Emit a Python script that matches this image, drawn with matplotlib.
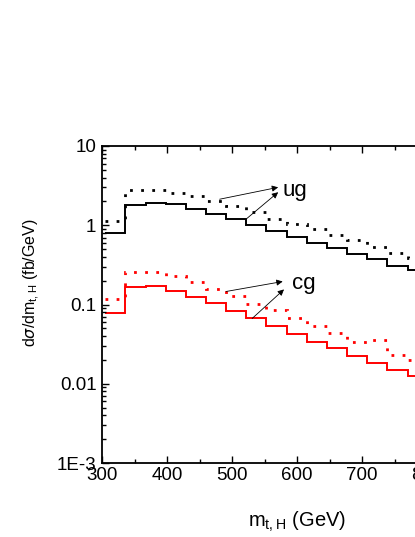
import matplotlib.pyplot as plt
from matplotlib.ticker import FixedLocator, FixedFormatter, LogLocator, MultipleLocator

plt.rcParams["font.family"] = ["Liberation Sans", "DejaVu Sans"]

# bin edges (GeV), first bin is cut by the axis at 300
edges = [305, 336, 367, 398, 429, 460, 491, 522, 553, 584, 615, 646,
         677, 708, 739, 770, 801]

ug_solid = [0.80, 1.79, 1.91, 1.84, 1.61, 1.39, 1.19, 1.02, 0.84, 0.71,
            0.60, 0.51, 0.43, 0.37, 0.31, 0.27]
ug_dotted = [1.13, 2.76, 2.80, 2.53, 2.32, 2.01, 1.75, 1.46, 1.21, 1.03,
             0.89, 0.76, 0.65, 0.53, 0.45, 0.39]
cg_solid = [0.078, 0.167, 0.170, 0.150, 0.125, 0.103, 0.082, 0.067, 0.053,
            0.043, 0.034, 0.028, 0.0223, 0.0184, 0.0151, 0.0125]
cg_dotted = [0.119, 0.26, 0.26, 0.23, 0.195, 0.159, 0.127, 0.102, 0.085,
             0.067, 0.054, 0.044, 0.034, 0.036, 0.023, 0.0197]

y_ticks = [1e-3, 1e-2, 1e-1, 1, 10]
y_tick_labels = ["1E-3", "0.01", "0.1", "1", "10"]
x_ticks = [300, 400, 500, 600, 700, 800, 900, 1000]

fig = plt.figure(figsize=(4.15, 5.37), dpi=100)
# the original is cropped on the right, so the axes run past the figure edge
ax = fig.add_axes([102 / 415, 74 / 537, 455 / 415, 317 / 537])

dots = (0, (1, 3))
ax.stairs(ug_solid, edges, baseline=None, color="black", lw=1.4)
ax.stairs(ug_dotted, edges, baseline=None, color="black", lw=2.0,
          linestyle=dots)
ax.stairs(cg_solid, edges, baseline=None, color="red", lw=1.4)
ax.stairs(cg_dotted, edges, baseline=None, color="red", lw=2.0,
          linestyle=dots)

arrow = dict(arrowstyle="-|>", color="black", lw=0.6, mutation_scale=9,
             shrinkA=0, shrinkB=0)
ax.annotate("", xy=(571, 3.01), xytext=(481, 2.13), arrowprops=arrow)
ax.annotate("", xy=(571, 2.61), xytext=(523, 1.22), arrowprops=arrow)
ax.text(578, 2.75, "ug", fontsize=16, va="center", ha="left")

ax.annotate("", xy=(578, 0.195), xytext=(491, 0.146), arrowprops=arrow)
ax.annotate("", xy=(580, 0.155), xytext=(531, 0.0666), arrowprops=arrow)
ax.text(592, 0.182, "cg", fontsize=16, va="center", ha="left")

ax.set_yscale("log")
ax.set_xlim(300, 1000)
ax.set_ylim(1e-3, 10)

ax.yaxis.set_major_locator(FixedLocator(y_ticks))
ax.yaxis.set_major_formatter(FixedFormatter(y_tick_labels))
ax.yaxis.set_minor_locator(LogLocator(base=10, subs=range(2, 10)))
ax.xaxis.set_major_locator(FixedLocator(x_ticks))
ax.xaxis.set_minor_locator(MultipleLocator(50))

ax.tick_params(which="both", direction="in", top=True, right=True,
               labelsize=13.5, width=1.0)
ax.tick_params(which="major", length=5)
ax.tick_params(which="minor", length=3)
ax.tick_params(axis="y", which="major", pad=4)
ax.tick_params(axis="x", which="major", pad=3)
for s in ax.spines.values():
    s.set_linewidth(1.3)

ax.set_xlabel(r"m$_{\mathregular{t,H}}$ (GeV)", fontsize=14.5)
ax.xaxis.set_label_coords(195 / 455, -47 / 317)
ax.set_ylabel(r"d$\sigma$/dm$_{\mathregular{t,H}}$ (fb/GeV)", fontsize=11.5)
ax.yaxis.set_label_coords(-60 / 455, 180 / 317)

fig.savefig("out.png", dpi=100)
